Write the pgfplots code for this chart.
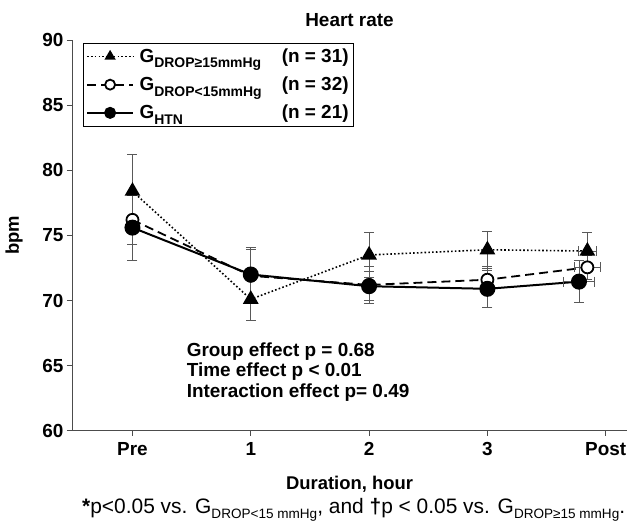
\documentclass[border=0pt]{standalone}
\usepackage{fontspec}
\setmainfont{Liberation Sans}
\usepackage{pgfplots}
\pgfplotsset{compat=1.18}
\newcommand\lsub[1]{\raisebox{-0.28em}{\fontsize{14}{15}\selectfont #1}}
\newcommand\fsub[1]{\raisebox{-0.25em}{\fontsize{13.6}{14}\selectfont #1}}
\pgfplotstableread{
x y ey ex
0 78.4 2.8 0
1 70.1 1.6 0
2 73.5 1.7 0
3 73.9 1.4 0
3.845 73.8 1.4 0.075
}\tabA
\pgfplotstableread{
x y ey ex
0 76.2 1.9 0
1 71.9 2.0 0
2 71.2 1.4 0
3 71.6 1.0 0
3.845 72.55 0.9 0.11
}\tabB
\pgfplotstableread{
x y ey ex
0 75.6 2.5 0
1 72.0 2.1 0
2 71.1 1.1 0
3 70.9 1.4 0
3.774 71.45 1.6 0.127
}\tabC
\begin{document}
\begin{tikzpicture}
\begin{axis}[
  scale only axis, width=555bp, height=390.5bp,
  xmin=-0.511, xmax=4.18, ymin=60, ymax=90,
  axis lines*=left,
  axis line style={line width=0.9bp, black!70},
  tick align=outside, major tick length=5bp,
  tick style={black!70, line width=0.9bp},
  xtick={0,1,2,3,4}, xticklabels={Pre,1,2,3,Post},
  ytick={60,65,...,90},
  /pgf/number format/assume math mode=true,
  tick label style={font=\bfseries\fontsize{19}{22}\selectfont},
  xticklabel style={yshift=-3bp},
  xlabel={Duration, hour},
  ylabel={bpm},
  xlabel style={at={(axis description cs:0.5,0)}, anchor=center, yshift=-54bp,
     font=\bfseries\fontsize{18.5}{22}\selectfont},
  ylabel style={at={(axis description cs:0,0.5)}, anchor=center, yshift=58bp,
     font=\bfseries\fontsize{18.5}{22}\selectfont},
  title={Heart rate},
  title style={at={(axis description cs:0.5,1)}, anchor=base, yshift=7.5bp,
     font=\bfseries\fontsize{19}{22}\selectfont},
  legend style={at={(rel axis cs:0.0193,0.993)}, anchor=north west,
     draw=black, line width=0.8bp, fill=white,
     font=\bfseries\fontsize{19}{22}\selectfont,
     row sep=10bp, inner xsep=3bp, inner ysep=4bp,
     nodes={inner sep=1.5bp}},
  legend cell align=left,
  legend image code/.code={\draw[#1,mark repeat=2,mark phase=2,mark size=5bp] plot coordinates {(0bp,0bp) (23bp,0bp) (46bp,0bp)};},
  error bars/error bar style={black!65, line width=0.9bp, solid},
  error bars/error mark options={rotate=90, mark size=5bp, black!65, line width=0.9bp, solid},
]
\addplot[black, line width=1.6bp, dash pattern=on 1.6bp off 2.2bp,
  mark=triangle*, mark size=7.5bp, mark options={solid, fill=black},
  error bars/.cd, y dir=both, y explicit, x dir=both, x explicit]
  table[x=x, y=y, y error=ey, x error=ex] {\tabA};
\addlegendentry{\hspace{4bp}\makebox[139bp][l]{G\lsub{DROP≥15mmHg}}\makebox[70bp][r]{(n = 31)}}
\addplot[black, line width=1.8bp, dash pattern=on 9bp off 5bp,
  mark=*, mark size=6bp, mark options={solid, fill=white, line width=1.8bp},
  error bars/.cd, y dir=both, y explicit, x dir=both, x explicit]
  table[x=x, y=y, y error=ey, x error=ex] {\tabB};
\addlegendentry{\hspace{4bp}\makebox[139bp][l]{G\lsub{DROP<15mmHg}}\makebox[70bp][r]{(n = 32)}}
\addplot[black, line width=2bp, solid,
  mark=*, mark size=7bp, mark options={solid, fill=black},
  error bars/.cd, y dir=both, y explicit, x dir=both, x explicit]
  table[x=x, y=y, y error=ey, x error=ex] {\tabC};
\addlegendentry{\hspace{4bp}\makebox[139bp][l]{G\lsub{HTN}}\makebox[70bp][r]{(n = 21)}}
\node[anchor=base west, align=left, font=\bfseries\fontsize{19}{20.5}\selectfont, inner sep=0pt]
  at (axis cs:0.458,62.57) {Group effect p = 0.68\\Time effect p < 0.01\\Interaction effect p= 0.49};
\end{axis}
\node[anchor=base west, inner sep=0pt, font=\fontsize{21}{22}\selectfont]
  at ([xshift=10bp, yshift=-83bp]current axis.south west) {\textbf{*}p<0.05 vs. G\fsub{DROP<15 mmHg}, and \textbf{†}p < 0.05 vs. G\fsub{DROP≥15 mmHg}.};
\pgfresetboundingbox
\path (current axis.south west) ++(-72bp,-91.3bp) rectangle ++(627bp,522bp);
\end{tikzpicture}
\end{document}
